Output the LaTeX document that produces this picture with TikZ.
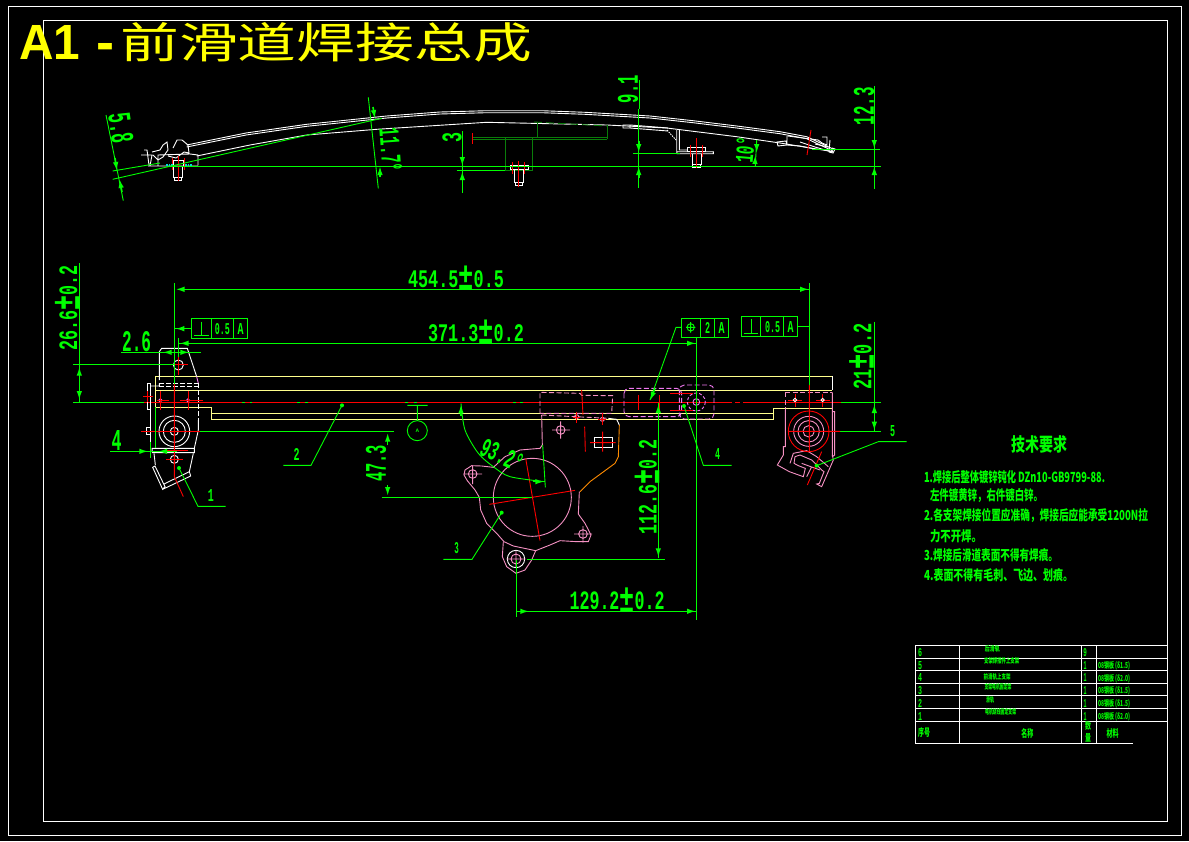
\documentclass[tikz,border=0pt]{standalone}
\usepackage{fontspec}
\setmainfont{Liberation Sans}
\setmonofont{Liberation Mono}
\newfontfamily\cjk{Noto Sans CJK SC}
\usetikzlibrary{arrows.meta}
\definecolor{gr}{RGB}{0,255,0}
\definecolor{dg}{RGB}{10,125,10}
\definecolor{pk}{RGB}{245,145,195}
\definecolor{mg}{RGB}{240,120,240}
\definecolor{ye}{RGB}{255,255,140}
\definecolor{rd}{RGB}{255,0,0}
\definecolor{orng}{RGB}{255,140,0}
\definecolor{tl}{RGB}{255,255,0}
\definecolor{cy}{RGB}{0,220,220}
\newcommand{\dimt}[3]{\resizebox{#1pt}{#2pt}{\ttfamily\bfseries #3}}
\newcommand{\pmm}{\raisebox{-0.1em}{\scalebox{1.5}{±}}}
\newcommand{\cjt}[3]{\resizebox{#1pt}{#2pt}{\cjk\bfseries #3}}
\newcommand{\arrow}[2]{\draw[arrowg] (#1) -- (#2);}
\tikzset{
 x=1pt,y=-1pt,
 wl/.style={draw=white,line width=0.9pt},
 gl/.style={draw=gr,line width=0.9pt},
 dl/.style={draw=dg,line width=0.9pt},
 rl/.style={draw=rd,line width=0.9pt},
 pl/.style={draw=pk,line width=0.9pt},
 ml/.style={draw=mg,line width=0.9pt,dash pattern=on 5pt off 2.5pt},
 yl/.style={draw=ye,line width=0.9pt},
 arrowg/.style={draw=gr,fill=gr,line width=1.6pt,-{Latex[length=9pt,width=5.5pt]}},
 dim/.style={text=gr,inner sep=0pt,outer sep=0pt},
 req/.style={text=gr,inner sep=0pt,outer sep=0pt,anchor=west},
 tb/.style={text=gr,inner sep=0pt,outer sep=0pt},
 zoomA/.style={shift={(50,260)},x=0.33333pt,y=-0.33333pt},
 zoomB/.style={shift={(350,360)},x=0.33333pt,y=-0.33333pt},
 zoomC/.style={shift={(620,300)},x=0.33333pt,y=-0.33333pt},
}
\begin{document}
\begin{tikzpicture}
\fill[black] (0,0) rectangle (1189,841);
\useasboundingbox (0,0) rectangle (1189,841);
% frames
\draw[white,line width=0.9pt] (8.3,6.3) rectangle (1181,835);
\draw[white,line width=0.9pt] (43.3,20.3) rectangle (1167.3,821.3);
% title
\node[text=tl,anchor=south west,inner sep=0pt] (title) at (19,59.5) {\resizebox{61pt}{34pt}{\bfseries A1}};
\node[text=tl,anchor=base west,inner sep=0pt] (titled) at (96,60) {\resizebox{18pt}{17pt}{\bfseries -}};
\node[text=tl,anchor=west,inner sep=0pt] (titlec) at (120,42.5) {\resizebox{412pt}{36pt}{\cjk 前滑道焊接总成}};

%%% TOP VIEW
\draw[wl] (186.7,145)--(246,133)--(306.7,124.3)--(386.7,116)--(440,112)--(486.7,110.7)--(541.7,110.7)--(585,112.3)--(620,114.3)--(650,116)--(693,120.7)--(736.7,126)--(780,131.7)--(806.7,136.7)--(833,149);
\draw[wl] (186.7,147)--(246,135)--(306.7,126.3)--(386.7,118)--(440,114)--(486.7,112.7)--(541.7,112.7)--(585,114.3)--(620,116.3)--(650,118)--(693,122.7)--(736.7,128)--(780,133.7)--(806.7,138.7)--(833,151);
\draw[wl] (196.7,156)--(250,145)--(306.7,135)--(376.7,129.3)--(486.7,122.3)--(606.7,125)--(666.7,128)--(736.7,136.7)--(780,143)--(833,151.7);
% dark green section
\draw[dl] (472,137)--(607,137) (472,139)--(607,139) (537,123)--(537,137) (607,125)--(607,139);
\draw[dl,dash pattern=on 8pt off 4pt] (534,122)--(607,126);
\draw[dl] (505,137)--(505,170)--(532,170)--(532,137) (462,170)--(505,170);
\draw[rl] (472,133)--(472,144);
% middle bolt
\draw[wl] (510,165) rectangle (528,169) (514,169)--(514,182)--(523,182)--(523,169) (515,182) rectangle (522,185);
\draw[rl] (518,161)--(518,187) (512,162)--(512,174) (524,162)--(524,174);
% left end details
\draw[wl] (141,155)--(152,155)--(150,166) (144,150)--(147,150)--(149,165) (152,152)--(160,150)--(163,145)--(167,142)--(168,150)--(163,157)--(158,160)--(153,155) (173,148)--(177,140)--(182,140)--(188,145)--(189,153)--(184,152)--(176,158)--(168,156) (158,166)--(158,155)--(190,154)--(198,155)--(198,165) (148,166)--(198,166);
\draw[wl] (173,160) rectangle (183,166) (173,166)--(173,177)--(182,177)--(182,166) (174,177) rectangle (181,180);
\draw[rl] (172,158)--(172,170) (178,156)--(178,181) (184,158)--(184,170);
\draw[draw=cy,line width=1.6pt,dash pattern=on 1.5pt off 1.2pt] (166,165)--(173,165) (185,165)--(192,165);
% mid bracket
\draw[wl] (623,125) rectangle (630,128) (630,125)--(668,128) (630,128)--(668,131);
\draw[wl] (676.7,130)--(676.7,151.7)--(713.3,151.7)--(713.3,153.7)--(677,153.7)--(676.7,151.7) (679.3,130)--(679.3,150)--(687,150);
\draw[wl,dash pattern=on 1.5pt off 1pt] (667,130)--(676,140);
\draw[wl] (687,147.5) rectangle (705,151.5) (692,153.7)--(692,164)--(701,164)--(701,153.7) (692,164) rectangle (700,167.5);
\draw[rl] (696.5,138)--(696.5,168) (690.5,145)--(690.5,157) (702.5,145)--(702.5,157);
% right end
\draw[wl] (777,142)--(786,141)--(787,145)--(778,146)--cycle (787,136)--(787,145)--(800,146)--(815,149) (788,136)--(818,140)--(822,143) (822,137)--(827,137)--(827,145)--(822,143) (800,142)--(815,147)--(832,152) (830,140)--(829,152)--(833,153)--(835,149)--(832,148) (815,144)--(828,147);
\draw[rl] (811,130)--(807,155);
% dims top
\draw[gl] (167,166.3)--(880.7,166.3);
\draw[gl] (112.7,179.3)--(381.7,118.3);
\draw[gl] (112.7,171)--(160,163);
\draw[gl] (106,115)--(123.3,200.7);
\arrow{115,158}{117,171}\arrow{122,192}{119.5,179}
\node[dim,rotate=-82] (d58) at (121,128) {\dimt{30}{22}{5.8}};
\draw[gl] (368.3,97.3)--(378.3,188.3);
\arrow{373,107}{375,119}\arrow{380,177}{380,166}
\node[dim,rotate=-86] (d117) at (391,150) {\dimt{44}{20}{11.7°}};
\draw[gl] (462.3,131)--(462.3,192.7);
\arrow{462.3,154}{462.3,166}\arrow{462.3,183}{462.3,171}
\draw[gl] (456.7,170)--(505,170);
\node[dim,rotate=90] (d3) at (452,137) {\dimt{10}{19}{3}};
\draw[gl] (639,80)--(639,109) (638.7,109)--(638.7,188);
\arrow{638.7,141}{638.7,153}\arrow{638.7,178}{638.7,166}
\draw[gl] (633,153.3)--(680,153.3);
\node[dim,rotate=90] (d91) at (628,89) {\dimt{28}{20}{9.1}};
\draw[gl] (874.3,86)--(874.3,188.7);
\arrow{874.3,137}{874.3,149}\arrow{874.3,178}{874.3,166}
\draw[gl] (812,149.3)--(880,149.3);
\node[dim,rotate=90] (d123) at (864,106) {\dimt{38}{20}{12.3}};
\node[dim,rotate=85] (d10) at (745,150) {\dimt{26}{18}{10°}};
\draw[gl] (756.7,140)--(755.3,166);
\arrow{756.7,144}{756.7,153}\arrow{755,163}{755.3,155}

%%% FRONT VIEW: RAIL
\draw[yl] (155.3,376.3)--(832.3,376.3) (155.3,390.3)--(832.3,390.3);
\draw[yl] (155.3,376.3)--(155.3,407.3)--(211.7,407.3)--(211.7,419.3)--(773.3,419.3)--(773.3,408.3)--(832.3,408.3);
\draw[yl] (211.7,413.3)--(773.3,413.3);
\draw[wl] (832.3,376.3)--(832.3,390.3);
% centre line
\draw[gl] (73,402.3)--(144,402.3) (841,402.3)--(881,402.3);
\draw[rl] (144,402.3)--(732,402.3) (735,402.3)--(740,402.3) (743,402.3)--(841,402.3);
\draw[gl] (242,402.3)--(245,402.3) (250,402.3)--(252,402.3) (297,402.3)--(300,402.3) (305,402.3)--(308,402.3) (405,402.3)--(408,402.3) (414,402.3)--(417,402.3) (513,402.3)--(516,402.3) (520,402.3)--(523,402.3);

%%% LEFT BRACKET
\begin{scope}[zoomA]
\draw[wl] (328,360)--(328,275)--(335,265)--(412,265)--(440,350);
\draw[draw=mg,line width=0.9pt] (440,350)--(445,370);
\draw[wl,dash pattern=on 5pt off 2pt] (328,378)--(445,378) (328,370)--(445,370) (445,370)--(445,480);
\draw[wl] (328,370)--(328,378) (302,378)--(328,378) (445,480)--(445,510)--(433,565);
\draw[wl] (302,378)--(302,565);
\draw[wl] (292,370) rectangle (302,449) (289,503) rectangle (300,524);
\draw[wl] (306,565)--(433,565)--(433,578)--(307,578)--cycle;
\draw[wl] (312,580)--(316,615) (430,580)--(418,635);
\draw[wl] (308,622)--(315,618)--(345,680)--(338,688)--cycle (338,688)--(422,648)--(418,635)--(342,672);
\foreach \r in {46,33,12} \draw[wl] (373,514) circle[radius=\r];
\draw[wl] (385,315) circle[radius=15];
\draw[wl] (373,598) circle[radius=12];
\draw[draw=mg,line width=0.9pt] (331,421) circle[radius=5] (414,421) circle[radius=5];
\draw[rl] (373,372)--(373,650) (373,650)--(400,710);
\draw[rl] (385,280)--(385,345) (355,313)--(415,313);
\draw[rl] (273,514)--(452,514) (280,409)--(308,409) (293,393)--(293,425);
\draw[rl] (331,393)--(331,450) (415,393)--(415,450) (320,421)--(358,421) (390,421)--(458,421);
\draw[rl] (343,571)--(413,571) (348,598)--(398,598);
% green dims
\draw[gl] (373,70)--(373,372) (385,235)--(385,290);
\draw[gl] (213,277)--(452,277) (70,313)--(372,313) (88,10)--(88,427);
\draw[gl] (180,574)--(380,574) (302,545)--(302,593) (316,440)--(316,565);
\draw[gl] (452,514)--(900,514);
\arrow{365,277}{338,277}\arrow{395,277}{418,277}
\arrow{88,352}{88,320}\arrow{88,390}{88,420}
\arrow{262,574}{295,574}\arrow{352,574}{324,574}
\node[dim] (d26) at (260,245) {\dimt{29}{20}{2.6}};
\node[dim] (d4) at (200,541) {\dimt{10}{20}{4}};
\node[dim,rotate=90] (d266) at (52,145) {\dimt{85}{22}{26.6\pmm0.2}};
% frame 1
\draw[gl] (424,175) rectangle (593,236) (484,175)--(484,236) (550,175)--(550,236);
\draw[gl] (432,226)--(478,226) (454,185)--(454,226);
\node[dim] (f1a) at (517,206) {\dimt{15}{11}{0.5}};
\node[dim] (f1b) at (572,206) {\dimt{6}{11}{A}};
\draw[gl] (424,206)--(374,206);
\arrow{408,206}{376,206}
\coordinate (l1a) at (387,624);\coordinate (l1b) at (444,739);\coordinate (l1c) at (527,739);
\fill[gr] (l1a) circle[radius=6];
\draw[gl] (l1a)--(l1b)--(l1c);
\node[dim] (lb1) at (483,707) {\dimt{6}{12}{1}};
\coordinate (l2a) at (876,436);\coordinate (l2b) at (783,616);\coordinate (l2c) at (700,616);
\fill[gr] (l2a) circle[radius=6];
\draw[gl] (l2a)--(l2b)--(l2c);
\node[dim] (lb2) at (740,584) {\dimt{6}{12}{2}};
\end{scope}

%%% LONG DIMS
\draw[gl] (182,289.3)--(809.3,289.3) (178.3,343.3)--(696.3,343.3);
\draw[gl] (809.3,283)--(809.3,385);
\arrow{188,289.3}{175.5,289.3}\arrow{797,289.3}{809,289.3}
\arrow{192,343.3}{179.5,343.3}
\node[dim] (d454) at (456,278) {\dimt{96}{21}{454.5\pmm0.5}};
\node[dim] (d371) at (476,332) {\dimt{96}{21}{371.3\pmm0.2}};
% datum line
\draw[gl] (200,431.5)--(393.7,431.5);

%%% WINDOW BRACKET
\begin{scope}[zoomB]
\draw[pl] (575,165)--(577,255)--(570,265)--(510,270)--(465,290)--(430,322)--(395,318)--(365,317)--(345,330)--(342,345)--(352,362)--(375,390)--(388,412)--(392,450)--(410,490)--(440,520)--(462,545)--(490,558)--(557,572)--(600,555)--(630,542)--(680,545)--(715,545)--(723,525)--(705,490)--(685,462)--(688,395);
\draw[draw=orng,line width=0.9pt] (690,395)--(720,365)--(795,310)--(805,290)--(808,195);
\draw[wl] (775,175)--(800,178)--(808,195);
\draw[pl] (460,545)--(457,590)--(470,620)--(498,640)--(525,630)--(545,600)--(557,572);
\draw[pl] (547,412) circle[radius=117];
\draw[pl,dash pattern=on 5pt off 2.5pt] (570,160)--(570,97)--(690,100)--(695,106)--(788,107)--(785,160)--(570,160);
\draw[pl,dash pattern=on 5pt off 2.5pt] (575,165)--(775,175);
\draw[rl] (418,433)--(675,391) (527,295)--(570,542);
\draw[wl] (498,597) circle[radius=26];
\draw[pl] (498,597) circle[radius=15] (470,597)--(526,597) (498,572)--(498,622);
\draw[pl] (368,342) circle[radius=13] (340,342)--(396,342) (368,318)--(368,372);
\draw[pl] (699,522) circle[radius=13] (672,522)--(726,522) (699,498)--(699,548);
\draw[pl] (632,210) circle[radius=13] (606,210)--(660,210) (632,184)--(632,236);
\draw[wl] (734,231) rectangle (788,263);
\draw[rl] (720,248)--(797,248) (758,215)--(758,275) (704,200)--(706,275) (695,90)--(699,165);
\draw[pl] (680,170) circle[radius=6] (757,178) circle[radius=6];
\draw[rl] (680,155)--(680,190) (668,172)--(690,172) (757,158)--(757,195) (745,178)--(768,178);
% dims
\draw[gl] (95,412)--(545,412) (499,600)--(499,772) (530,598)--(945,598);
\arrow{113,255}{113,218}\arrow{113,375}{113,408}
\node[dim,rotate=90] (d473) at (78,310) {\dimt{37}{20}{47.3}};
% datum A
\draw[gl] (172,136)--(233,136) (202,136)--(202,182) (202,212) circle[radius=30];
\node[dim,font=\bfseries\fontsize{5}{5}\selectfont] (datumA) at (202,212) {A};
% 93.2
\draw[gl] plot[smooth] coordinates {(333,130) (345,210) (385,280) (430,320) (480,350) (585,365)};
\draw[gl] (578,255)--(586,382);
\arrow{333,168}{333,133}\arrow{548,365}{583,365}
\node[dim,rotate=-25] (d932) at (456,285) {\dimt{44}{19}{93.2°}};
\coordinate (l3a) at (455,458);\coordinate (l3b) at (366,598);\coordinate (l3c) at (280,598);
\fill[gr] (l3a) circle[radius=6];
\draw[gl] (l3a)--(l3b)--(l3c);
\node[dim] (lb3) at (320,565) {\dimt{4.5}{11}{3}};
\arrow{505,754}{538,754}
\end{scope}
\draw[gl] (516.3,611.3)--(696.3,611.3);
\arrow{684,611.3}{696,611.3}
\node[dim] (d129) at (617,600) {\dimt{95}{22}{129.2\pmm0.2}};

%%% RIGHT PARTS
\begin{scope}[zoomC]
\draw[draw=mg,line width=0.9pt,dash pattern=on 5pt off 2.5pt,rounded corners=5pt] (12,265) rectangle (185,350) (178,255) rectangle (282,357);
\draw[draw=mg,line width=0.9pt] (229,306) circle[radius=10];
\draw[draw=mg,line width=0.9pt,dash pattern=on 3pt off 2pt] (229,306) circle[radius=27];
\draw[rl] (229,255)--(229,372) (150,280)--(220,280) (150,331)--(220,331) (55,285)--(55,330) (118,285)--(118,330);
% dims
\draw[gl] (229,110)--(229,960);
\draw[gl] (115,310)--(115,775);
\arrow{115,345}{115,312}
\node[dim,rotate=90] (d112) at (81,561) {\dimt{95}{22}{112.6\pmm0.2}};
\arrow{115,740}{115,772}
\arrow{195,130}{228,130}
\draw[gl] (763,65)--(763,395) (660,394)--(783,394);
\arrow{763,345}{763,312}\arrow{763,358}{763,392}
\node[dim,rotate=90] (d21) at (725,170) {\dimt{66}{22}{21\pmm0.2}};
% frames
\draw[gl] (184,55) rectangle (326,112) (242,55)--(242,112) (284,55)--(284,112);
\draw[gl] (212,82) circle[radius=11] (198,82)--(226,82) (212,66)--(212,98);
\node[dim] (f2a) at (263,84) {\dimt{5}{11}{2}};
\node[dim] (f2b) at (305,84) {\dimt{6}{11}{A}};
\coordinate (fl0) at (184,82);\coordinate (fl1) at (168,82);\coordinate (fl2) at (90,300);
\draw[gl] (fl0)--(fl1)--(fl2);
\arrow{105,265}{90,302}
\draw[gl] (364,49) rectangle (533,110) (422,49)--(422,110) (490,49)--(490,110);
\draw[gl] (371,100)--(415,100) (393,58)--(393,100);
\node[dim] (f3a) at (458,80) {\dimt{15}{11}{0.5}};
\node[dim] (f3b) at (512,80) {\dimt{6}{11}{A}};
\draw[gl] (533,79)--(568,79);
% right bracket
\draw[pl,dash pattern=on 5pt off 2.5pt] (496,277)--(637,277) (496,277)--(496,330);
\draw[pl] (496,330)--(496,440)--(490,440)--(490,465)--(472,495)--(508,515)--(550,530)--(556,505)--(535,497)--(522,490)--(525,470)--(540,465)--(575,480)--(605,510)--(612,515)--(598,550)--(590,552)--(605,560)--(640,480)--(637,465);
\draw[pl] (637,277)--(637,470) (637,335)--(644,335)--(644,465)--(637,470);
\draw[pl] (510,490)--(520,460)--(560,452)--(590,470)--(625,500) (545,490)--(600,510) (575,500)--(560,530);
\foreach \r in {45,32,17} \draw[pl] (566,394) circle[radius=\r];
\draw[rl] (566,394) circle[radius=61];
\draw[rl] (505,394)--(660,394) (568,255)--(568,455) (605,455)--(562,555);
\draw[rl] (505,300)--(545,300) (525,282)--(525,320) (588,300)--(630,300) (608,282)--(608,320);
\draw[wl] (525,300) circle[radius=5] (608,300) circle[radius=5];
% labels
\coordinate (l5a) at (590,497);\coordinate (l5b) at (775,425);\coordinate (l5c) at (860,425);
\fill[gr] (l5a) circle[radius=6];
\draw[gl] (l5a)--(l5b)--(l5c);
\node[dim] (lb5) at (818,393) {\dimt{5}{11}{5}};
\coordinate (l4a) at (192,318);\coordinate (l4b) at (250,496);\coordinate (l4c) at (335,496);
\fill[gr] (l4a) circle[radius=6];
\draw[gl] (l4a)--(l4b)--(l4c);
\node[dim] (lb4) at (293,463) {\dimt{5}{11}{4}};
\end{scope}

%%% TECHNICAL REQUIREMENTS
\node[dim] (rt) at (1039,444) {\cjt{56}{16}{技术要求}};
\node[req] (r1) at (924,477) {\cjt{181}{12}{1.焊接后整体镀锌钝化 DZn10-GB9799-88.}};
\node[req] (r2) at (930,496) {\cjt{113}{12}{左件镀黄锌，右件镀白锌。}};
\node[req] (r3) at (924,516) {\cjt{224}{12}{2.各支架焊接位置应准确，焊接后应能承受1200N拉}};
\node[req] (r4) at (930,536) {\cjt{52}{12}{力不开焊。}};
\node[req] (r5) at (924,555) {\cjt{134}{12}{3.焊接后滑道表面不得有焊痕。}};
\node[req] (r6) at (924,575) {\cjt{149}{12}{4.表面不得有毛刺、飞边、划痕。}};

%%% TABLE
\foreach \yy in {645.3,658.3,670.3,683.3,695.3,708.3,721.3} \draw[wl] (915.3,\yy)--(1167.3,\yy);
\draw[wl] (915.3,743.3)--(1132.7,743.3);
\draw[wl] (915.3,645.3)--(915.3,743.3) (959.3,645.3)--(959.3,743.3) (1081.7,645.3)--(1081.7,743.3) (1096.3,645.3)--(1096.3,743.3);
\foreach \n/\t/\yy in {a/6/653,b/5/665.7,c/4/677.7,d/3/690.7,e/2/703.3,f/1/716}
  \node[dim] (s\n) at (920,\yy) {\dimt{4}{8}{\t}};
\foreach \n/\t/\yy in {b/1/665.7,c/1/677.7,d/1/690.7,e/1/703.3,f/1/716}
  \node[dim] (q\n) at (1085,\yy) {\dimt{3}{8}{\t}};
\node[dim] (qa) at (1085,653) {\dimt{3.5}{8}{9}};
\node[tb] (n6) at (992.3,649) {\cjt{15}{6}{后滑轨}};
\node[tb] (n5) at (1001.7,661) {\cjt{35}{6}{支架焊接件上支架}};
\node[tb] (n4) at (997,677) {\cjt{27}{6}{前滑轨上支架}};
\node[tb] (n3) at (998,687) {\cjt{27}{6}{支架电机固定架}};
\node[tb] (n2) at (990,700) {\cjt{8}{6}{滑轨}};
\node[tb] (n1) at (1000.7,712) {\cjt{31}{6}{电机绕线固定支架}};
\node[tb] (m5) at (1114,666) {\cjt{32}{7}{08钢板 (δ1.5)}};
\node[tb] (m4) at (1114,679) {\cjt{32}{7}{08钢板 (δ2.0)}};
\node[tb] (m3) at (1114,691) {\cjt{32}{7}{08钢板 (δ1.5)}};
\node[tb] (m2) at (1114,704) {\cjt{32}{7}{08钢板 (δ1.5)}};
\node[tb] (m1) at (1114,717) {\cjt{32}{7}{08钢板 (δ2.0)}};
\node[tb] (h1) at (924,733) {\cjt{12}{9}{序号}};
\node[tb] (h2) at (1027.3,733) {\cjt{12}{9}{名称}};
\node[tb] (h3a) at (1088,726) {\cjt{6}{8}{数}};
\node[tb] (h3b) at (1088,738) {\cjt{6}{8}{量}};
\node[tb] (h4) at (1112.7,733) {\cjt{12}{9}{材料}};
\end{tikzpicture}
\end{document}
